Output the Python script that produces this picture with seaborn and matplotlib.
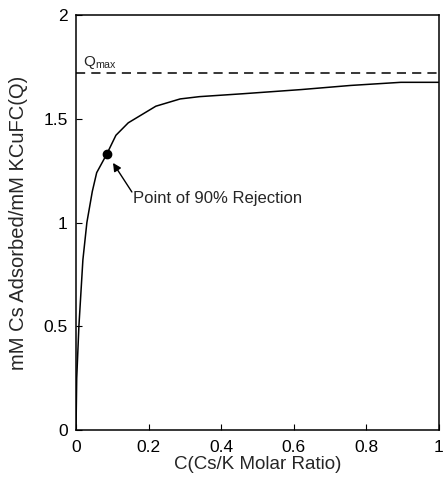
import seaborn as sns
import numpy as np
import pandas as pd
import matplotlib.pyplot as plt

# isotherm
ratio = [0, 0.002, 0.008, 0.019, 0.03, 0.045, 0.057, 0.085, 0.11, 0.144,
         0.22, 0.287, 0.34, 0.46, 0.62, 0.757, 0.895, 1.0]
q_ads = [0, 0.25, 0.5, 0.82, 1.0, 1.15, 1.24, 1.33, 1.42, 1.48,
         1.56, 1.595, 1.606, 1.62, 1.64, 1.66, 1.675, 1.675]
q_max = 1.72
rej_point = (0.085, 1.33)
x_ticks = [0, 0.2, 0.4, 0.6, 0.8, 1]
x_labels = ["0", "0.2", "0.4", "0.6", "0.8", "1"]
y_ticks = [0, 0.5, 1, 1.5, 2]
y_labels = ["0", "0.5", "1", "1.5", "2"]

sns.set_style("ticks")
plt.rcParams["font.family"] = ["Liberation Sans", "DejaVu Sans"]
plt.rcParams["xtick.direction"] = "in"
plt.rcParams["ytick.direction"] = "in"

df = pd.DataFrame({"C": ratio, "Q": q_ads})

fig = plt.figure(figsize=(4.47, 4.78), dpi=100)
ax = fig.add_axes([0.170, 0.100, 0.812, 0.869])

sns.lineplot(data=df, x="C", y="Q", color="black", lw=1.1, ax=ax)
ax.axhline(q_max, color="black", lw=1.1, ls=(0, (6, 4)))
ax.plot([rej_point[0]], [rej_point[1]], "o", color="black", ms=6)

ax.text(0.02, 1.754, r"Q$_{\mathregular{max}}$", fontsize=11)
ax.annotate("", xy=(0.102, 1.287), xytext=(0.154, 1.147),
            arrowprops=dict(arrowstyle="-|>", color="black", lw=1,
                            shrinkA=0, shrinkB=0, mutation_scale=12))
ax.text(0.157, 1.118, "Point of 90% Rejection", fontsize=12, va="center")

ax.set_xlim(0, 1)
ax.set_ylim(0, 2)
ax.set_xticks(x_ticks)
ax.set_xticklabels(x_labels)
ax.set_yticks(y_ticks)
ax.set_yticklabels(y_labels)
ax.tick_params(labelsize=12.5, length=4, width=0.8, colors="black")
ax.tick_params(axis="x", pad=7)
ax.tick_params(axis="y", pad=6)
ax.set_xlabel("C(Cs/K Molar Ratio)", fontsize=13.5, labelpad=1)
ax.set_ylabel("mM Cs Adsorbed/mM KCuFC(Q)", fontsize=14.5)
ax.yaxis.set_label_coords(-0.132, 0.5)
for s in ax.spines.values():
    s.set_color("black")
    s.set_linewidth(1.1)

plt.savefig("out.png", dpi=100)
